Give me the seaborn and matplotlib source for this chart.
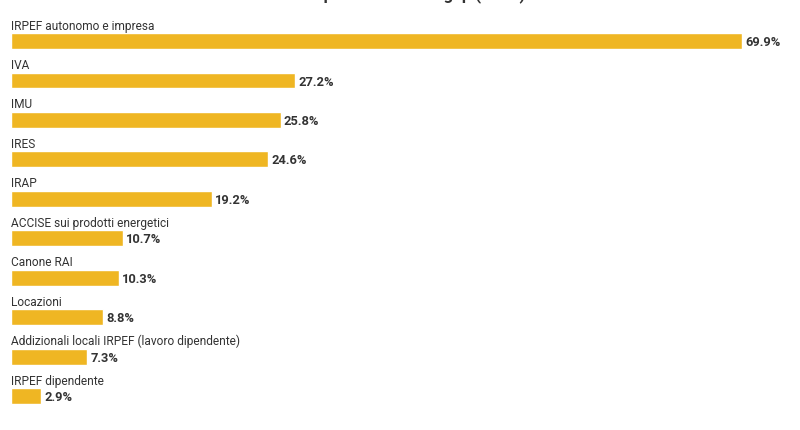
import matplotlib
matplotlib.use("Agg")
import matplotlib.pyplot as plt
import seaborn as sns
import pandas as pd

# --------------------------
# Data
# --------------------------
imposte = [
    "IRPEF autonomo e impresa",
    "IVA",
    "IMU",
    "IRES",
    "IRAP",
    "ACCISE sui prodotti energetici",
    "Canone RAI",
    "Locazioni",
    "Addizionali locali IRPEF (lavoro dipendente)",
    "IRPEF dipendente",
]
gap = [69.9, 27.2, 25.8, 24.6, 19.2, 10.7, 10.3, 8.8, 7.3, 2.9]
titolo = "Tasse più evase: il tax gap (2019)"

df = pd.DataFrame({"imposta": imposte, "gap": gap})

# --------------------------
# Style
# --------------------------
sns.set_theme(style="white")
plt.rcParams["font.family"] = ["Roboto", "DejaVu Sans"]
bar_color = "#efb623"
text_color = "#333333"

fig = plt.figure(figsize=(8, 4.3), dpi=100)
# axes cover full height; x from bar start to longest bar end
ax = fig.add_axes([11 / 800, 0, 731 / 800, 1])

sns.barplot(data=df, x="gap", y="imposta", orient="h", color=bar_color,
            width=0.4, saturation=1, ax=ax)

ax.set_xlim(0, max(gap))
ax.set_ylim(9.86, -1.04)
ax.axis("off")

half = 0.2
for i, (name, val) in enumerate(zip(imposte, gap)):
    # category label sits just above its bar
    ax.text(0, i - half - 0.09, name, ha="left", va="baseline",
            fontsize=8.6, color=text_color)
    ax.text(val + 0.3, i + 0.04, f"{val:.1f}%", ha="left", va="center",
            fontsize=9.3, fontweight="bold", color=text_color)

# title sits above the canvas, only descenders visible (as in the original)
fig.text(0.5, 1 + 0.5 / 430, titolo, ha="center", va="baseline",
         fontsize=12, fontweight="bold", color=text_color)

fig.savefig("out.png", dpi=100)
